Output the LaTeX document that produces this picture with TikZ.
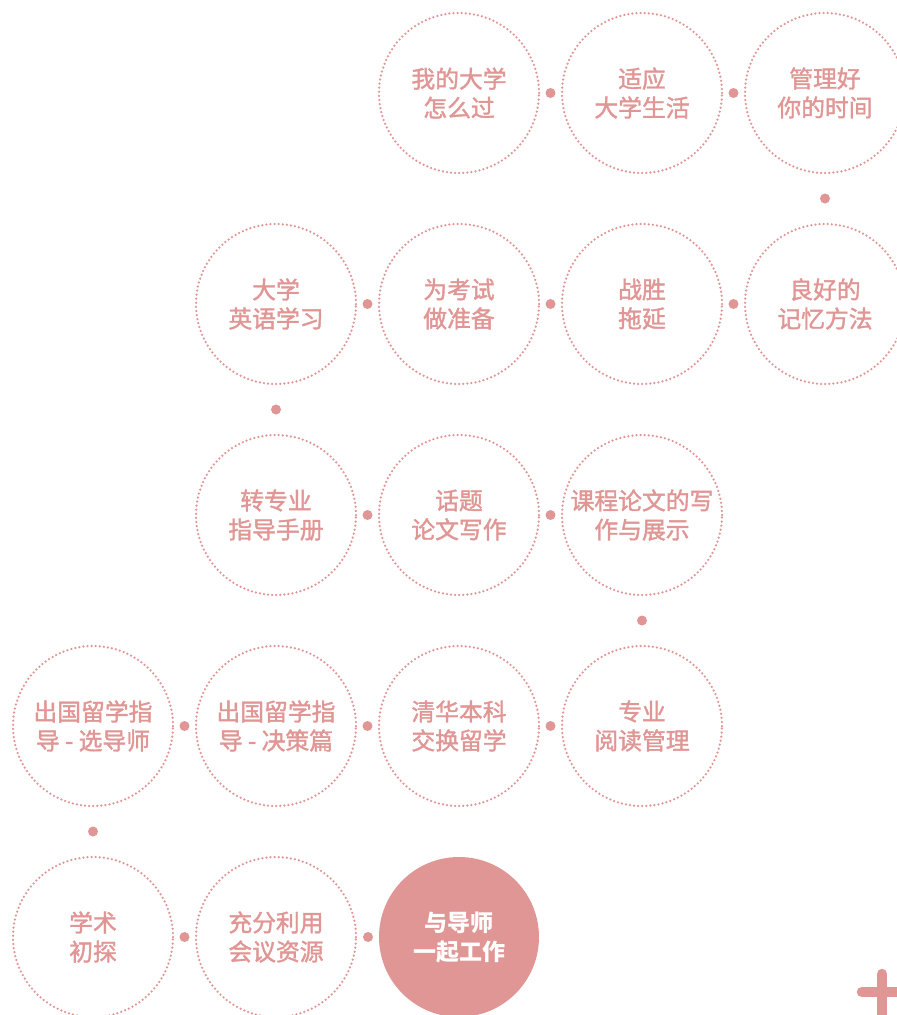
\documentclass[tikz,border=0pt]{standalone}
\usepackage{fontspec}
\newfontfamily\cjk{Noto Sans CJK SC}
\newfontfamily\cjkm[FakeBold=1.6]{Noto Sans CJK SC}
\definecolor{pk}{RGB}{224,150,148}
\tikzset{
  topic/.style={circle,minimum size=160pt,inner sep=0pt,align=center,
    draw=pk,line width=2.5pt,dash pattern=on 0pt off 4.1pt,line cap=round,
    text=pk,font=\cjkm\fontsize{23.8}{29}\selectfont},
  topicfill/.style={circle,minimum size=160pt,inner sep=0pt,align=center,
    fill=pk,text=white,font=\cjk\bfseries\fontsize{23}{29}\selectfont},
  link/.style={circle,fill=pk,minimum size=10pt,inner sep=0pt}
}
\begin{document}
\begin{tikzpicture}[x=1pt,y=-1pt]
\useasboundingbox (0,0) rectangle (897,1015);
% row 1
\node[topic] (a1) at (459,93) {我的大学\\怎么过};
\node[topic] (a2) at (642,93) {适应\\大学生活};
\node[topic] (a3) at (825,93) {管理好\\你的时间};
% row 2
\node[topic] (b1) at (825,304) {良好的\\记忆方法};
\node[topic] (b2) at (642,304) {战胜\\拖延};
\node[topic] (b3) at (459,304) {为考试\\做准备};
\node[topic] (b4) at (276,304) {大学\\英语学习};
% row 3
\node[topic] (c1) at (276,515) {转专业\\指导手册};
\node[topic] (c2) at (459,515) {话题\\论文写作};
\node[topic] (c3) at (642,515) {课程论文的写\\作与展示};
% row 4
\node[topic] (d1) at (642,726) {专业\\阅读管理};
\node[topic] (d2) at (459,726) {清华本科\\交换留学};
\node[topic] (d3) at (276,726) {出国留学指\\导 - 决策篇};
\node[topic] (d4) at (93,726) {出国留学指\\导 - 选导师};
% row 5
\node[topic] (e1) at (93,937) {学术\\初探};
\node[topic] (e2) at (276,937) {充分利用\\会议资源};
\node[topicfill] (e3) at (459,937) {与导师\\一起工作};
% connector dots
\path (a1) -- node[link]{} (a2);
\path (a2) -- node[link]{} (a3);
\path (a3) -- node[link]{} (b1);
\path (b1) -- node[link]{} (b2);
\path (b2) -- node[link]{} (b3);
\path (b3) -- node[link]{} (b4);
\path (b4) -- node[link]{} (c1);
\path (c1) -- node[link]{} (c2);
\path (c2) -- node[link]{} (c3);
\path (c3) -- node[link]{} (d1);
\path (d1) -- node[link]{} (d2);
\path (d2) -- node[link]{} (d3);
\path (d3) -- node[link]{} (d4);
\path (d4) -- node[link]{} (e1);
\path (e1) -- node[link]{} (e2);
\path (e2) -- node[link]{} (e3);
% plus sign
\coordinate (pc) at (882,992);
\draw[pk,line width=10.5pt,line cap=round] ([xshift=-20pt]pc) -- ([xshift=30pt]pc);
\draw[pk,line width=10.5pt,line cap=round] ([yshift=18pt]pc) -- ([yshift=-30pt]pc);
\end{tikzpicture}
\end{document}
